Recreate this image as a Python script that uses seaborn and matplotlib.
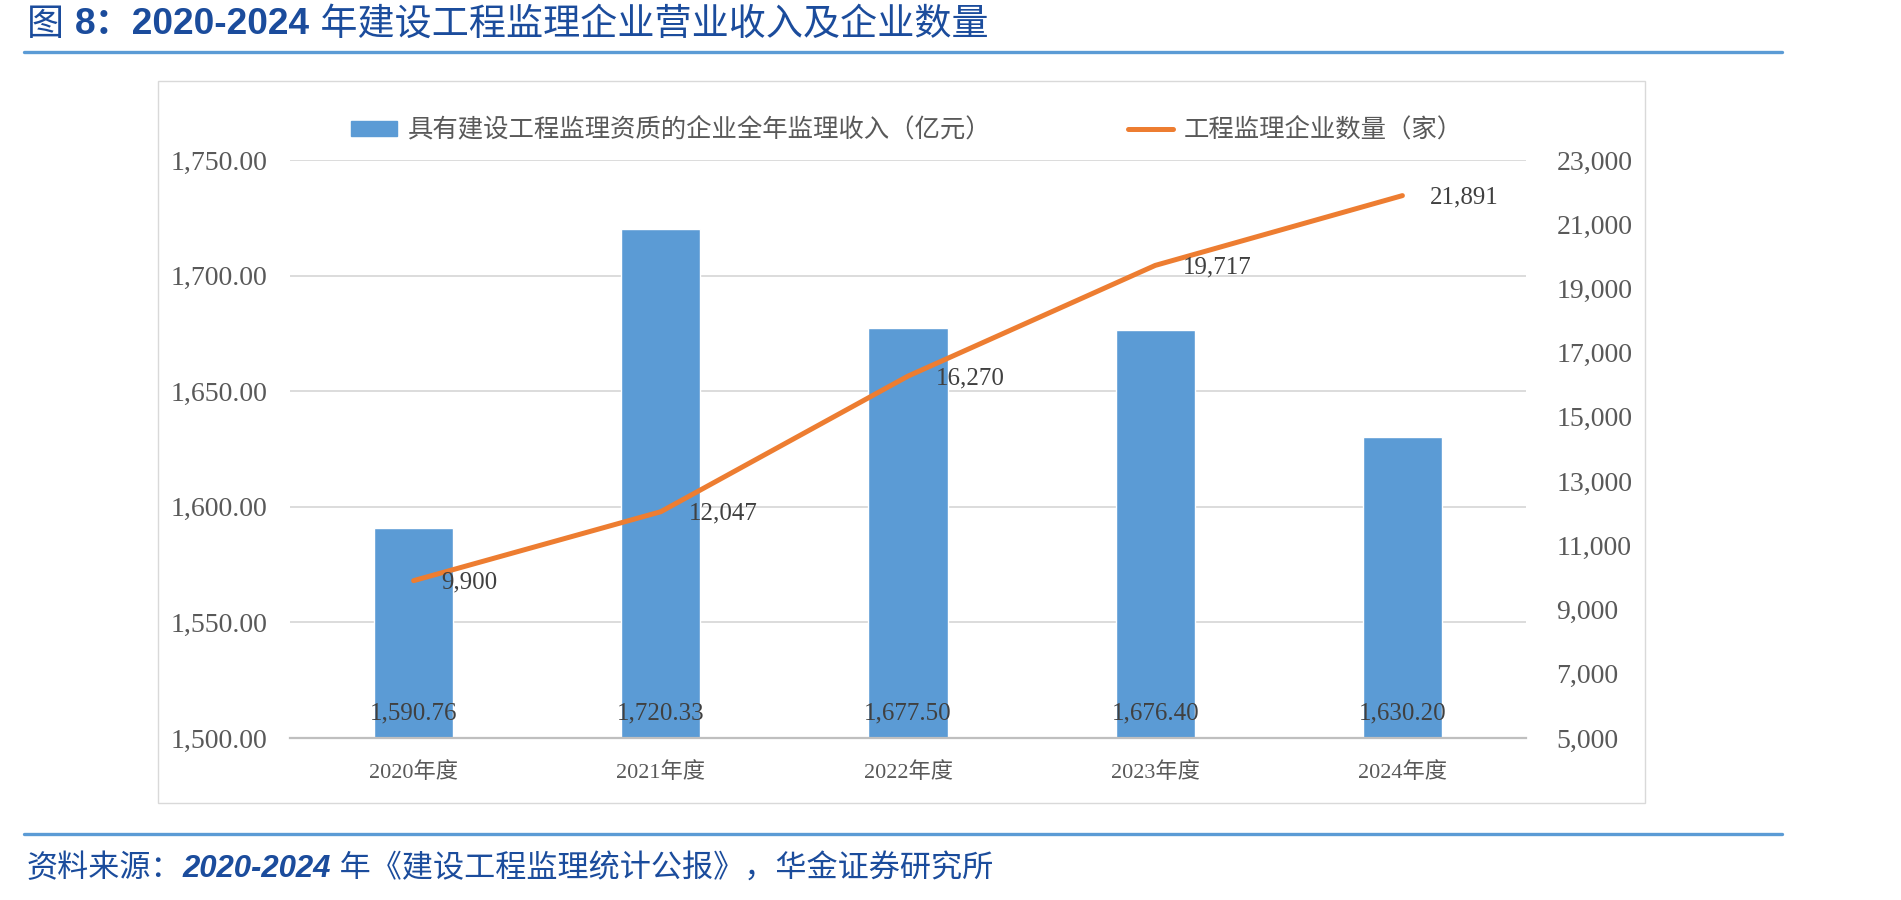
import matplotlib
matplotlib.use('Agg')
import matplotlib.pyplot as plt
import seaborn as sns
import pandas as pd
from matplotlib.lines import Line2D
from matplotlib.patches import Patch, Rectangle
from matplotlib.transforms import IdentityTransform

# ---------------- data ----------------
years = ['2020年度', '2021年度', '2022年度', '2023年度', '2024年度']
revenue = [1590.76, 1720.33, 1677.50, 1676.40, 1630.20]
companies = [9900, 12047, 16270, 19717, 21891]
left_ticks = [1500, 1550, 1600, 1650, 1700, 1750]
right_ticks = [5000, 7000, 9000, 11000, 13000, 15000, 17000, 19000, 21000, 23000]
bar_label = '具有建设工程监理资质的企业全年监理收入（亿元）'
line_label = '工程监理企业数量（家）'
title_parts = ['图 ', '8：2020-2024', ' 年建设工程监理企业营业收入及企业数量']
source_parts = ['资料来源：', '2020-2024', ' 年《建设工程监理统计公报》，华金证券研究所']

BAR_C = '#5B9BD5'
LINE_C = '#ED7D31'
TICK_C = '#595959'
LAB_C = '#404040'
BLUE_T = '#1B4C9C'
RULE_C = '#5B9BD5'

sns.set_theme(style='white')
plt.rcParams['font.family'] = ['Liberation Serif', 'Noto Sans CJK SC', 'DejaVu Sans']

W, H = 1901, 900
fig = plt.figure(figsize=(W / 100, H / 100), dpi=100)
ax = fig.add_axes([290 / W, 1 - 738 / H, 1236 / W, 578 / H])

df = pd.DataFrame({'year': years, 'revenue': revenue,
                   'idx': list(range(len(years))), 'companies': companies})

sns.barplot(data=df, x='year', y='revenue', color=BAR_C, saturation=1,
            width=0.32, ax=ax)
ax.set_ylim(left_ticks[0], left_ticks[-1])
ax.set_xlim(-0.5, len(years) - 0.5)
ax.set_yticks(left_ticks)
ax.set_yticklabels([f'{v:,.2f}' for v in left_ticks])
ax.set_xlabel('')
ax.set_ylabel('')
ax.yaxis.grid(True, color='#D9D9D9', lw=1.3)
ax.xaxis.grid(False)
ax.set_axisbelow(True)
for s in ['top', 'left', 'right']:
    ax.spines[s].set_visible(False)
ax.spines['bottom'].set_color('#BFBFBF')
ax.spines['bottom'].set_linewidth(1.6)
ax.tick_params(axis='y', length=0, pad=16, labelsize=20, labelcolor=TICK_C)
ax.tick_params(axis='x', length=0, pad=17, labelsize=16, labelcolor=TICK_C)

for i, v in enumerate(revenue):
    ax.annotate(f'{v:,.2f}', xy=(i, left_ticks[0]), xytext=(0, 18),
                textcoords='offset points', ha='center', va='center',
                fontsize=18, color=LAB_C)

ax2 = ax.twinx()
sns.lineplot(data=df, x='idx', y='companies', color=LINE_C, lw=3.6, ax=ax2)
ax2.set_ylim(right_ticks[0], right_ticks[-1])
ax2.set_xlim(-0.5, len(years) - 0.5)
ax2.set_yticks(right_ticks)
ax2.set_yticklabels([f'{v:,}' for v in right_ticks])
ax2.set_xlabel('')
ax2.set_ylabel('')
ax2.grid(False)
for s in ax2.spines.values():
    s.set_visible(False)
ax2.tick_params(axis='y', length=0, pad=22, labelsize=20, labelcolor=TICK_C)

for i, c in enumerate(companies):
    ax2.annotate(f'{c:,}', xy=(i, c), xytext=(20, -1.5),
                 textcoords='offset points', ha='left', va='center',
                 fontsize=18, color=LAB_C)

handles = [Patch(facecolor=BAR_C, edgecolor=BAR_C),
           Line2D([], [], color=LINE_C, lw=3.6)]
fig.legend(handles, [bar_label, line_label], loc='center',
           bbox_to_anchor=(0.477, 1 - 130 / H), ncol=2, frameon=False,
           fontsize=18.3, labelcolor=TICK_C, columnspacing=5.4,
           handlelength=1.8, handleheight=0.5, handletextpad=0.4)

# outer chart border
fig.add_artist(Rectangle((158 / W, 1 - 803 / H), (1645 - 158) / W, (803 - 81) / H,
                         transform=fig.transFigure, fill=False,
                         ec='#D9D9D9', lw=1.0))

# rules
fig.add_artist(Line2D([24 / W, 1782 / W], [1 - 52 / H] * 2, color=RULE_C, lw=2.4,
                      transform=fig.transFigure))
fig.add_artist(Line2D([24 / W, 1782 / W], [1 - 834 / H] * 2, color=RULE_C, lw=2.4,
                      transform=fig.transFigure))


def seq_text(x, y, parts, weights, size, style='normal'):
    renderer = fig.canvas.get_renderer()
    for s, w in zip(parts, weights):
        t = fig.text(x, y, s, transform=IdentityTransform(), ha='left', va='center',
                     fontsize=size, fontweight=w, color=BLUE_T, style=style,
                     family=['Liberation Sans', 'Noto Sans CJK SC', 'DejaVu Sans'])
        bb = t.get_window_extent(renderer)
        x = bb.x1


seq_text(27, H - 25, title_parts, ['normal', 'bold', 'normal'], 26.7)
seq_text(27, H - 869, source_parts, ['normal', 'bold', 'normal'], 22.4, style='italic')

fig.savefig('out.png', dpi=100)
